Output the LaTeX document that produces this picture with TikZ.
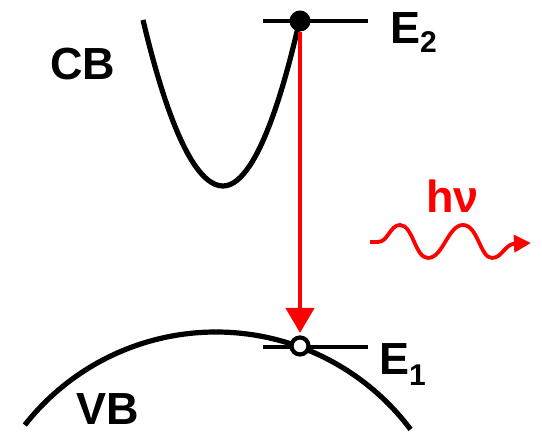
\documentclass[tikz,border=0pt]{standalone}
\usepackage{fontspec}
\setmainfont{Liberation Sans}
\usetikzlibrary{arrows.meta}
\definecolor{pred}{RGB}{255,0,0}
\begin{document}
\begin{tikzpicture}[x=1pt,y=1pt,
  band/.style={line width=5.2pt},
  level/.style={line width=3.5pt},
  lbl/.style={anchor=base west,inner sep=0pt,font=\fontsize{45}{45}\selectfont\bfseries}]
\useasboundingbox (0,0) rectangle (542,435);
% conduction band
\draw[band] (143,415) parabola bend (223,249) (299,412);
% valence band
\draw[band] (216,-140) ++(141.9:243) arc[start angle=141.9,end angle=36.8,radius=243];
% levels
\coordinate (e2l) at (263,414); \coordinate (e2r) at (368,414);
\coordinate (e1l) at (263,88); \coordinate (e1r) at (368,88);
\draw[level] (e2l) -- (e2r);
\draw[level] (e1l) -- (e1r);
\node[circle,fill=black,minimum size=21pt,inner sep=0pt] (el) at (300,414) {};
% transition arrow
\coordinate (tip) at (300,102);
\draw[pred,line width=4.2pt,-{Triangle[width=28pt,length=25pt]}] (el.south) -- (tip);
\node[circle,draw=black,line width=4.2pt,fill=white,minimum size=17pt,inner sep=0pt] (hole) at (300,89) {};
% labels
\node[lbl] (cb) at (50,355) {CB};
\node[lbl] (vb) at (76,10) {VB};
\node[lbl] (E2) at (390,391) {E\raisebox{-9pt}{\fontsize{30}{30}\selectfont 2}};
\node[lbl] (E1) at (379,60) {E\raisebox{-11pt}{\fontsize{30}{30}\selectfont 1}};
\node[lbl,text=pred] (hv) at (426,222) {hν};
% photon
\coordinate (ws) at (370,193);
\coordinate (we) at (531,192);
\draw[pred,line width=3.8pt,-{Triangle[width=17pt,length=17pt]}]
  (ws) -- (378,193) .. controls (388,193) and (390,210) .. (400,210)
  .. controls (413,210) and (415,177) .. (428,177)
  .. controls (443,177) and (448,210) .. (463,210)
  .. controls (478,210) and (480,177) .. (492,177)
  .. controls (502,177) and (505,191) .. (we);
\end{tikzpicture}
\end{document}
